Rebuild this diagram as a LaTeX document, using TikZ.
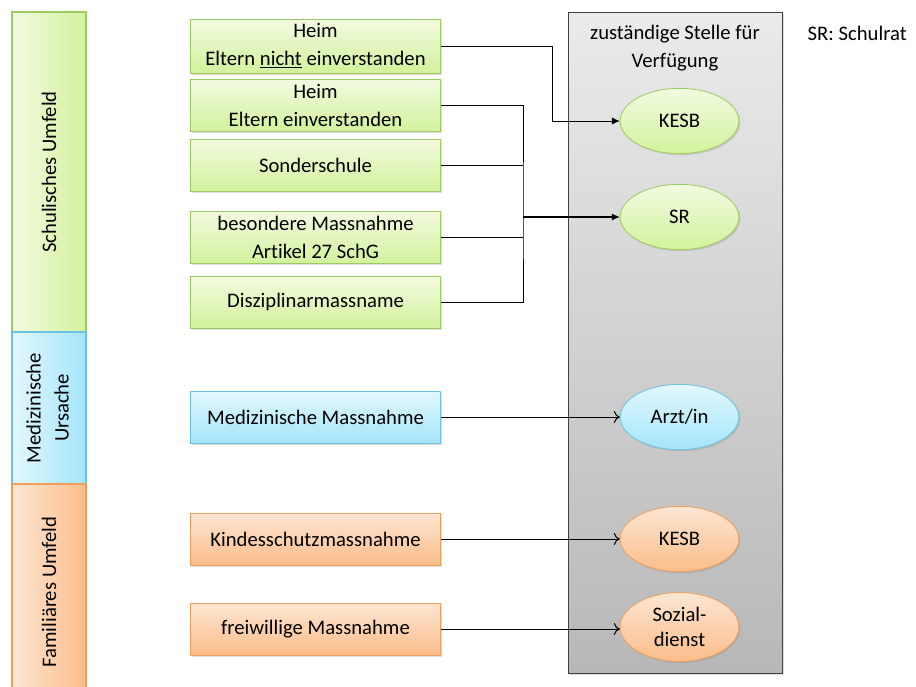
\documentclass[tikz,border=0pt]{standalone}
\usepackage{fontspec}
\setmainfont{Carlito}[Ligatures={NoCommon}]
\usetikzlibrary{shapes.geometric, positioning, arrows.meta, shadows}

\definecolor{greenTop}{HTML}{F1FBE1}
\definecolor{greenBot}{HTML}{D3F29C}
\definecolor{greenLine}{HTML}{9CCB62}
\definecolor{blueTop}{HTML}{E2F8FD}
\definecolor{blueBot}{HTML}{A4E5FA}
\definecolor{blueLine}{HTML}{6BC3DE}
\definecolor{orangeTop}{HTML}{FDE6D3}
\definecolor{orangeBot}{HTML}{FBBD8A}
\definecolor{orangeLine}{HTML}{EE9F5E}

\begin{document}
\begin{tikzpicture}[x=0.75pt,y=-0.75pt,font=\fontsize{15.5}{21}\selectfont,
	soft shadow/.style={drop shadow={shadow xshift=1.2pt,shadow yshift=-1.2pt,opacity=0.25}},
	massbox/.style={rectangle,minimum width=188pt,minimum height=39pt,align=center,line width=0.6pt,soft shadow},
	greenbox/.style={massbox,draw=greenLine,top color=greenTop,bottom color=greenBot},
	bluebox/.style={massbox,draw=blueLine,top color=blueTop,bottom color=blueBot},
	orangebox/.style={massbox,draw=orangeLine,top color=orangeTop,bottom color=orangeBot},
	stelle/.style={ellipse,minimum width=89pt,minimum height=49pt,align=center,line width=0.6pt,soft shadow},
	bar/.style={rectangle,minimum width=55.5pt,line width=0.8pt,align=center},
	link/.style={line width=0.6pt},
	filled tip/.style={-{Latex[length=6pt,width=5.5pt]}},
	open tip/.style={-{To[length=4.5pt,width=9pt,line width=0.8pt]}}]
	
	\useasboundingbox (0,0) rectangle (916,686);
	
	% Bereiche links
	\node[bar,draw=greenLine,left color=greenTop,right color=greenBot,minimum height=240pt] (schule) at (49,172) {\rotatebox{90}{Schulisches Umfeld}};
	\node[bar,draw=blueLine,left color=blueTop,right color=blueBot,minimum height=114pt] (medizin) at (49,408) {\rotatebox{90}{\begin{tabular}{@{}c@{}}Medizinische\\Ursache\end{tabular}}};
	\node[bar,draw=orangeLine,left color=orangeTop,right color=orangeBot,minimum height=162pt] (familie) at (49,592) {\rotatebox{90}{Familiäres Umfeld}};
	
	% zustaendige Stelle
	\node[rectangle,draw=black!75,line width=0.7pt,top color=black!8,bottom color=black!28,minimum width=160.5pt,minimum height=495.75pt,soft shadow] (panel) at (675,342.5) {};
	\node[align=center] (kopf) at (675,48) {zuständige Stelle für\\Verfügung};
	\node[anchor=west] (note) at (803,33) {SR: Schulrat};
	
	% Massnahmen
	\node[greenbox] (heimNicht) at (315.5,46) {Heim\\Eltern \underline{nicht} einverstanden};
	\node[greenbox] (heimEinv) at (315.5,105) {Heim\\Eltern einverstanden};
	\node[greenbox] (sonder) at (315.5,165) {Sonderschule};
	\node[greenbox] (artikel) at (315.5,237) {besondere Massnahme\\Artikel 27 SchG};
	\node[greenbox] (diszi) at (315.5,302) {Disziplinarmassname};
	\node[bluebox] (medMass) at (315.5,417) {Medizinische Massnahme};
	\node[orangebox] (kindes) at (315.5,539) {Kindesschutzmassnahme};
	\node[orangebox] (freiw) at (315.5,629) {freiwillige Massnahme};
	
	\node[stelle,draw=greenLine,top color=greenTop,bottom color=greenBot] (kesbA) at (679.5,121) {KESB};
	\node[stelle,draw=greenLine,top color=greenTop,bottom color=greenBot] (sr) at (679.5,217) {SR};
	\node[stelle,draw=blueLine,top color=blueTop,bottom color=blueBot] (arzt) at (679.5,417) {Arzt/in};
	\node[stelle,draw=orangeLine,top color=orangeTop,bottom color=orangeBot] (kesbB) at (679.5,539) {KESB};
	\node[stelle,draw=orangeLine,top color=orangeTop,bottom color=orangeBot] (sozial) at (679.5,627) {Sozial-\\[-2pt]dienst};
	
	\coordinate (bus) at (523,217);
	
	\draw[link,filled tip] (heimNicht.east) -- ++(111,0) |- (kesbA.west);
	\draw[link] (heimEinv.east) -| (bus) |- (diszi.east);
	\draw[link] (sonder.east) -- (sonder.east -| bus);
	\draw[link] (artikel.east) -- (artikel.east -| bus);
	\draw[line width=0.9pt,filled tip] (bus) -- (sr.west);
	\draw[link,open tip] (medMass.east) -- (arzt.west);
	\draw[link,open tip] (kindes.east) -- (kesbB.west);
	\draw[link,open tip] (freiw.east) -- (freiw.east -| sozial.west);
\end{tikzpicture}
\end{document}
